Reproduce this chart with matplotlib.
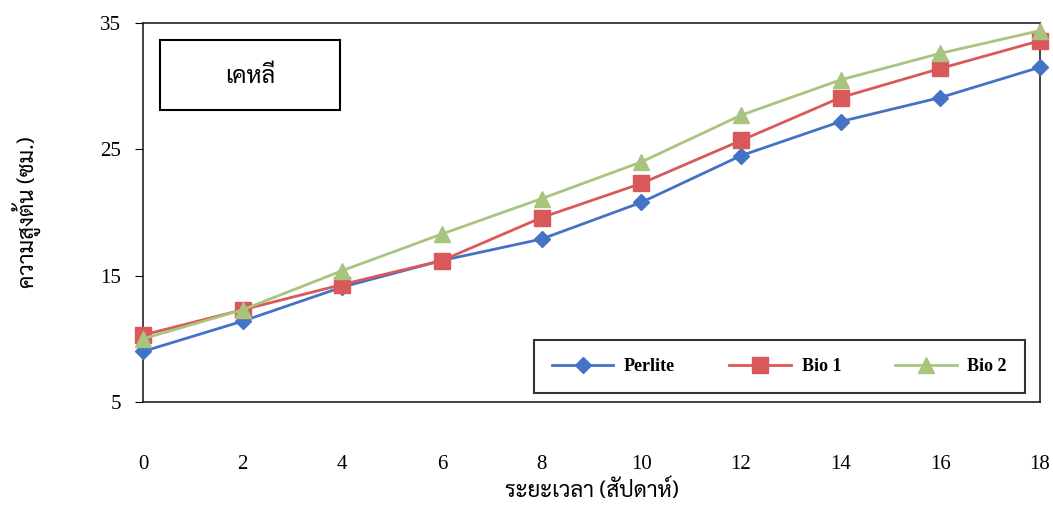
import matplotlib
matplotlib.use("Agg")
import matplotlib.pyplot as plt
from matplotlib import font_manager
from matplotlib.patches import Rectangle

weeks = [0, 2, 4, 6, 8, 10, 12, 14, 16, 18]
perlite = [9.0, 11.4, 14.1, 16.2, 17.9, 20.8, 24.5, 27.2, 29.1, 31.5]
bio1 = [10.3, 12.3, 14.3, 16.2, 19.6, 22.3, 25.7, 29.1, 31.4, 33.6]
bio2 = [10.0, 12.3, 15.4, 18.3, 21.1, 24.0, 27.7, 30.5, 32.6, 34.4]
yticks = [5, 15, 25, 35]

title = "เคหลี"
ylab = "ความสูงต้น (ซม.)"
xlab = "ระยะเวลา (สัปดาห์)"


def thai_fonts():
    # installed fonts that cover every Thai character used here
    from fontTools.ttLib import TTFont
    need = {ord(c) for c in title + ylab + xlab if ord(c) > 0x0E00}
    found = []
    for path in font_manager.findSystemFonts():
        try:
            cmap = TTFont(path, fontNumber=0, lazy=True).getBestCmap()
        except Exception:
            continue
        if cmap and need <= set(cmap):
            found.append(font_manager.FontProperties(fname=path).get_name())
    return sorted(set(found))


cands = thai_fonts()
prefer = ["Kinnari", "Norasi", "Sarabun", "FreeSerif", "Loma"]
picked = [f for f in prefer if f in cands] + [f for f in cands if "Mono" not in f]
thai_family = picked[:1] + ["DejaVu Sans"]
serif = "Liberation Serif"

fig = plt.figure(figsize=(10.53, 5.05), dpi=100)
ax = fig.add_axes([143 / 1053, 1 - 402 / 505, (1040 - 143) / 1053, (402 - 23) / 505])

ax.plot(weeks, perlite, color="#4472C4", marker="D", markersize=8, lw=2,
        label="Perlite", clip_on=False, zorder=3)
ax.plot(weeks, bio1, color="#D9595A", marker="s", markersize=11, lw=2,
        label="Bio 1", clip_on=False, zorder=3)
ax.plot(weeks, bio2, color="#A9C47F", marker="^", markersize=11, lw=2,
        label="Bio 2", clip_on=False, zorder=3)

ax.set_xlim(0, 18)
ax.set_ylim(5, 35)
ax.set_xticks(weeks)
ax.set_yticks(yticks)
ax.tick_params(axis="x", length=0, pad=38)
ax.tick_params(axis="y", direction="out", length=6, pad=10)
for lab in ax.get_xticklabels() + ax.get_yticklabels():
    lab.set_fontfamily(serif)
    lab.set_fontsize(15)
for s in ax.spines.values():
    s.set_color("#222222")
    s.set_linewidth(1.2)

ax.set_ylabel(ylab, family=thai_family, fontsize=16, labelpad=42)
ax.set_xlabel(xlab, family=thai_family, fontsize=16, labelpad=4)

leg = ax.legend(loc="lower right", ncol=3, frameon=True, fancybox=False,
                borderpad=1.0, borderaxespad=0, columnspacing=3.0,
                handlelength=3.4, handletextpad=0.6,
                prop={"family": serif, "weight": "bold", "size": 13})
leg.get_frame().set_edgecolor("black")
leg.get_frame().set_linewidth(1.5)
leg.set_bbox_to_anchor(((1025 - 143) / 897, (402 - 393) / 379), transform=ax.transAxes)

# title box
fig.patches.append(Rectangle((160 / 1053, 1 - 110 / 505), 180 / 1053, 70 / 505,
                             transform=fig.transFigure, fill=False,
                             edgecolor="black", lw=1.5))
fig.text(250 / 1053, 1 - 77 / 505, title, family=thai_family, fontsize=17,
         ha="center", va="center")

fig.savefig("out.png", dpi=100)
